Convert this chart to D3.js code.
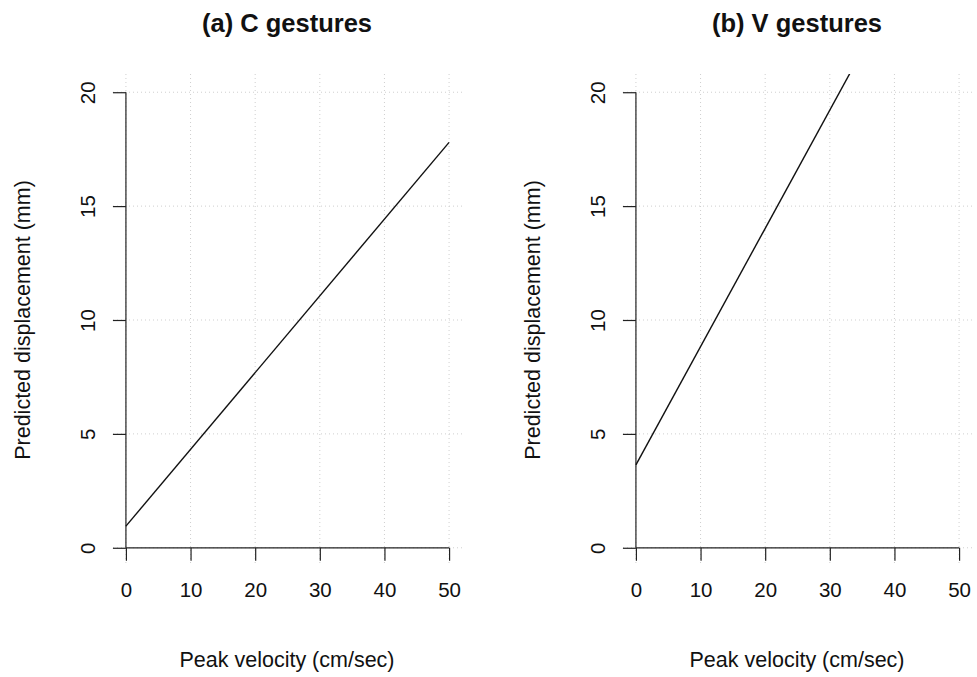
<!DOCTYPE html>
<html>
<head>
<meta charset="utf-8">
<script src="https://cdn.jsdelivr.net/npm/d3@7"></script>
<style>
  html, body { margin: 0; padding: 0; background: #fff; }
  svg { display: block; font-family: "Liberation Sans", Arial, sans-serif; }
</style>
</head>
<body>
<svg id="chart" width="977" height="677"></svg>
<script>
// Fitted lines: predicted displacement (mm) against peak velocity (cm/sec)
const panelTitles = ["(a) C gestures", "(b) V gestures"];
const velocity = [0, 50];                 // x range of each fitted line
const displacementC = [0.95, 17.8];       // C gestures at velocity 0 and 50
const displacementV = [3.64, 29.6];       // V gestures at velocity 0 and 50
const xTicks = [0, 10, 20, 30, 40, 50];
const yTicks = [0, 5, 10, 15, 20];
const xLabel = "Peak velocity (cm/sec)";
const yLabel = "Predicted displacement (mm)";

const panels = [
  { title: panelTitles[0], values: displacementC },
  { title: panelTitles[1], values: displacementV }
];

const svg = d3.select("#chart");
const panelWidth = 510;

panels.forEach((p, i) => {
  const g = svg.append("g").attr("transform", `translate(${i * panelWidth},0)`);

  // Plot region spans data range padded by 4% each side
  const x = d3.scaleLinear().domain([-2, 52]).range([113, 462]);
  const y = d3.scaleLinear().domain([-0.8, 20.8]).range([566, 74]);

  const clipId = "clip" + i;
  g.append("clipPath").attr("id", clipId)
    .append("rect")
    .attr("x", x(-2)).attr("y", y(20.8))
    .attr("width", x(52) - x(-2)).attr("height", y(-0.8) - y(20.8));

  // Dotted reference grid
  const grid = g.append("g").attr("stroke", "#cfcfcf").attr("stroke-width", 1)
    .attr("stroke-dasharray", "1,3");
  grid.selectAll("line.v").data(xTicks).join("line")
    .attr("class", "v")
    .attr("x1", d => x(d)).attr("x2", d => x(d))
    .attr("y1", y(20.8)).attr("y2", y(-0.8));
  grid.selectAll("line.h").data(yTicks).join("line")
    .attr("class", "h")
    .attr("y1", d => y(d)).attr("y2", d => y(d))
    .attr("x1", x(-2)).attr("x2", x(52));

  // Axes drawn through the origin
  const xAxis = d3.axisBottom(x).tickValues(xTicks).tickSize(13).tickPadding(20)
    .tickFormat(d3.format("d"));
  const gx = g.append("g").attr("transform", `translate(0,${y(0)})`).call(xAxis);
  gx.select(".domain").attr("d", `M${x(0)},0H${x(50)}`);

  const yAxis = d3.axisLeft(y).tickValues(yTicks).tickSize(13).tickPadding(0)
    .tickFormat(d3.format("d"));
  const gy = g.append("g").attr("transform", `translate(${x(0)},0)`).call(yAxis);
  gy.select(".domain").attr("d", `M0,${y(0)}V${y(20)}`);

  [gx, gy].forEach(a => {
    a.selectAll(".domain, .tick line").attr("stroke", "#222").attr("stroke-width", 1.2);
    a.selectAll("text").attr("fill", "#111").style("font-size", "20.5px");
  });
  gx.selectAll(".tick text").attr("dy", null).attr("y", 49);
  gy.selectAll(".tick text")
    .attr("x", null).attr("dy", null)
    .attr("text-anchor", "middle")
    .attr("transform", "translate(-31,0) rotate(-90)");

  // Fitted line
  const pts = velocity.map((v, k) => [v, p.values[k]]);
  g.append("path")
    .datum(pts)
    .attr("clip-path", `url(#${clipId})`)
    .attr("fill", "none")
    .attr("stroke", "#111")
    .attr("stroke-width", 1.4)
    .attr("d", d3.line().x(d => x(d[0])).y(d => y(d[1])));

  // Titles and axis labels
  g.append("text")
    .attr("x", 287).attr("y", 32)
    .attr("text-anchor", "middle")
    .style("font-size", "25.5px").style("font-weight", "bold")
    .attr("fill", "#111")
    .text(p.title);

  g.append("text")
    .attr("x", 287).attr("y", 667)
    .attr("text-anchor", "middle")
    .style("font-size", "21.5px")
    .attr("fill", "#111")
    .text(xLabel);

  g.append("text")
    .attr("transform", `translate(30,${(y(20.8) + y(-0.8)) / 2}) rotate(-90)`)
    .attr("text-anchor", "middle")
    .style("font-size", "21.5px")
    .attr("fill", "#111")
    .text(yLabel);
});
</script>
</body>
</html>
